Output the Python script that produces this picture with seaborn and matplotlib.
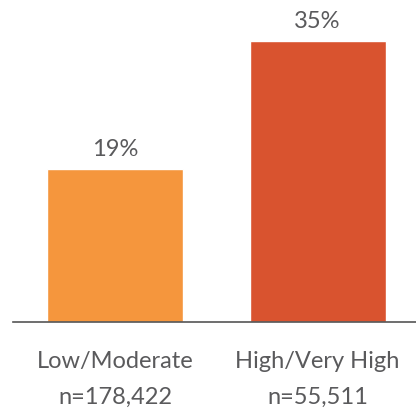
import matplotlib
matplotlib.use("Agg")
import matplotlib.pyplot as plt
import seaborn as sns
import pandas as pd

categories = ["Low/Moderate", "High/Very High"]
counts = ["n=178,422", "n=55,511"]
values = [19, 35]
colors = ["#F5963D", "#D9532F"]

sns.set_theme(style="white")
plt.rcParams['font.family'] = ['Lato', 'DejaVu Sans']

df = pd.DataFrame({"cat": categories, "val": values})

fig = plt.figure(figsize=(4.16, 4.15), dpi=100)
ax = fig.add_axes([13/416, (415-321.5)/415, 1-13/416, 320/415])

sns.barplot(data=df, x="cat", y="val", hue="cat", palette=colors, legend=False,
            width=0.672, saturation=1, ax=ax)

ax.set_xlim(-0.504, 1.486)
ax.set_ylim(0, 40)
text_color = "#5A5A5C"
for c in ax.containers:
    ax.bar_label(c, labels=[f"{int(v)}%" for v in c.datavalues], padding=7,
                 fontsize=17, color=text_color, fontweight="normal")

ax.set_xticks([0, 1])
ax.set_xticklabels([f"{c}\n{n}" for c, n in zip(categories, counts)],
                   fontsize=17, color=text_color, linespacing=1.9, fontweight="normal")
ax.tick_params(axis="x", length=0, pad=21)
ax.set_yticks([])
ax.set_xlabel("")
ax.set_ylabel("")
for s in ["top", "right", "left"]:
    ax.spines[s].set_visible(False)
ax.spines["bottom"].set_color("#555555")
ax.spines["bottom"].set_linewidth(1.2)

fig.savefig("out.png", dpi=100)
